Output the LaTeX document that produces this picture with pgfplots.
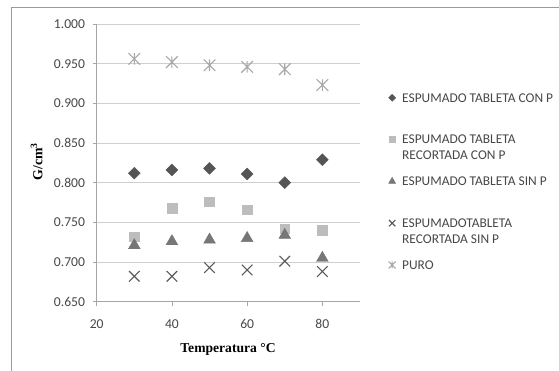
\documentclass[border=0pt]{standalone}
\usepackage{fontspec}
\setmainfont{Carlito}
\newfontfamily\tnr{Liberation Serif}
\usepackage{pgfplots}
\pgfplotsset{compat=1.18}
\definecolor{cDia}{HTML}{555555}
\definecolor{cSq}{HTML}{BDBDBD}
\definecolor{cTri}{HTML}{777777}
\definecolor{cX}{HTML}{5A5A5A}
\definecolor{cStar}{HTML}{A8A8A8}
\definecolor{frame}{HTML}{9A9A9A}
\definecolor{axisgray}{HTML}{A6A6A6}
\definecolor{gridgray}{HTML}{CFCFCF}
\definecolor{tickgray}{HTML}{474747}
\pgfdeclareplotmark{xstar}{%
  \pgfpathmoveto{\pgfqpoint{-\pgfplotmarksize}{-\pgfplotmarksize}}%
  \pgfpathlineto{\pgfqpoint{\pgfplotmarksize}{\pgfplotmarksize}}%
  \pgfpathmoveto{\pgfqpoint{-\pgfplotmarksize}{\pgfplotmarksize}}%
  \pgfpathlineto{\pgfqpoint{\pgfplotmarksize}{-\pgfplotmarksize}}%
  \pgfpathmoveto{\pgfqpoint{0pt}{-\pgfplotmarksize}}%
  \pgfpathlineto{\pgfqpoint{0pt}{\pgfplotmarksize}}%
  \pgfusepathqstroke}
\pgfplotsset{
  legmark/.style={only marks,
    legend image code/.code={\draw[##1,/tikz/only marks,every mark/.append style={scale=0.6}] plot coordinates {(0pt,4.4pt)};}},
}
\begin{document}
\begin{tikzpicture}[x=1pt,y=1pt]
\useasboundingbox (0,0) rectangle (559,371);
\draw[color=frame, line width=0.9pt] (11.5,0) -- (11.5,363.6) -- (559,363.6);
\begin{axis}[
  at={(96.7pt,69.3pt)}, anchor=south west,
  scale only axis, width=263.3pt, height=277.7pt,
  xmin=20, xmax=90, ymin=0.65, ymax=1.0,
  xtick={20,40,60,80},
  ytick={0.65,0.70,0.75,0.80,0.85,0.90,0.95,1.00},
  /pgf/number format/assume math mode=true,
  scaled y ticks=false,
  axis x line*=bottom, axis y line*=left,
  axis line style={color=axisgray, line width=0.8pt},
  tick style={color=axisgray, line width=0.8pt},
  tick align=outside, major tick length=4pt,
  ymajorgrids, grid style={color=gridgray, line width=0.8pt},
  tick label style={font=\fontsize{13.6}{15}\selectfont, text=tickgray, inner sep=0pt},
  yticklabel style={anchor=east, xshift=-7.5pt, /pgf/number format/fixed, /pgf/number format/fixed zerofill, /pgf/number format/precision=3},
  xticklabel style={anchor=north, yshift=-13.5pt},
  xlabel={\tnr\bfseries Temperatura °C},
  ylabel={\tnr\bfseries G/cm\textsuperscript{3}},
  xlabel style={at={(axis description cs:0.4987,-0.1703)}, anchor=center, font=\fontsize{13.6}{15}\selectfont},
  ylabel style={at={(axis description cs:-0.228,0.5049)}, anchor=center, font=\fontsize{13.8}{15}\selectfont},
  legend style={at={(axis description cs:1.1086,0.757)}, anchor=north west,
    draw=none, fill=none, inner sep=0pt, outer sep=0pt, row sep=27.6pt, column sep=4.5pt,
    font=\fontsize{13.4}{15.5}\selectfont, text=tickgray,
    cells={anchor=base west, inner sep=0pt}},
  clip=false,
]
\addplot[legmark, mark=square*, mark size=4.2pt, color=cDia, mark options={rotate=45}]
  coordinates {(30,0.812) (40,0.816) (50,0.818) (60,0.811) (70,0.800) (80,0.829)};
\addlegendentry{ESPUMADO TABLETA CON P}
\addplot[legmark, mark=square*, mark size=4.9pt, color=cSq]
  coordinates {(30,0.732) (40,0.768) (50,0.776) (60,0.766) (70,0.742) (80,0.740)};
\addlegendentry{\parbox[t]{160pt}{\raggedright\baselineskip=15.5pt ESPUMADO TABLETA\\RECORTADA CON P}}
\addplot[legmark, mark=triangle*, mark size=6.8pt, color=cTri]
  coordinates {(30,0.721) (40,0.726) (50,0.728) (60,0.730) (70,0.734) (80,0.705)};
\addlegendentry{ESPUMADO TABLETA SIN P}
\addplot[legmark, mark=x, mark size=7.5pt, color=cX, mark options={line width=1.1pt}]
  coordinates {(30,0.682) (40,0.682) (50,0.693) (60,0.690) (70,0.701) (80,0.688)};
\addlegendentry{\parbox[t]{160pt}{\raggedright\baselineskip=15.5pt ESPUMADOTABLETA\\RECORTADA SIN P}}
\addplot[legmark, mark=xstar, mark size=5.8pt, color=cStar, mark options={line width=1.1pt}]
  coordinates {(30,0.956) (40,0.952) (50,0.948) (60,0.946) (70,0.943) (80,0.923)};
\addlegendentry{PURO}
\end{axis}
\end{tikzpicture}
\end{document}
